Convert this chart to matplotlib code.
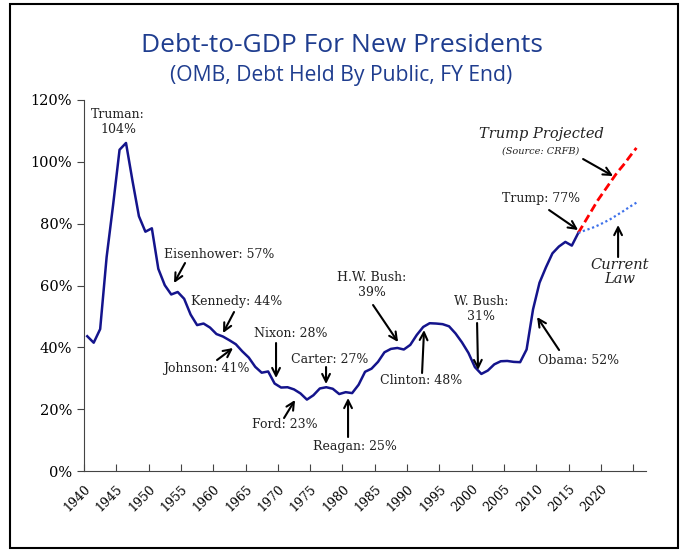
import matplotlib.pyplot as plt
from matplotlib.patches import Rectangle
from matplotlib.transforms import ScaledTranslation

# debt held by public, % of GDP (OMB), fiscal years 1940-2016
years = list(range(1940, 2017))
debt = [43.6, 41.5, 45.9, 69.2, 86.0, 103.9, 106.1, 93.9, 82.4, 77.4,
        78.5, 65.4, 60.1, 57.1, 57.9, 55.7, 50.6, 47.2, 47.7, 46.4,
        44.3, 43.5, 42.3, 41.0, 38.7, 36.7, 33.7, 31.8, 32.2, 28.3,
        27.0, 27.1, 26.4, 25.1, 23.1, 24.5, 26.7, 27.1, 26.6, 24.9,
        25.5, 25.2, 27.9, 32.1, 33.1, 35.3, 38.4, 39.5, 39.8, 39.3,
        40.8, 44.0, 46.6, 47.8, 47.7, 47.5, 46.8, 44.5, 41.6, 38.2,
        33.6, 31.4, 32.5, 34.5, 35.5, 35.6, 35.3, 35.2, 39.3, 52.3,
        60.9, 65.9, 70.4, 72.6, 74.1, 72.9, 77.0]

# projections 2016-2025
proj_years = list(range(2016, 2026))
trump_proj = [77.0, 80.5, 84.0, 87.5, 90.5, 93.5, 96.5, 99.0, 101.8, 104.5]
current_law = [77.0, 77.8, 78.5, 79.4, 80.4, 81.5, 82.8, 84.1, 85.5, 86.8]

tick_years = list(range(1940, 2026, 5))
xtick_labels = [str(y) for y in tick_years if y <= 2020] + ['']
yticks = [0, 20, 40, 60, 80, 100, 120]

serif = 'DejaVu Serif'
navy = '#14148c'
txtc = '#222222'

fig = plt.figure(figsize=(6.83, 5.5), dpi=100)
ax = fig.add_axes([0.123, 0.1436, 0.823, 0.6746])

ax.plot(years, debt, color=navy, lw=1.8)
ax.plot(proj_years, trump_proj, color='red', lw=2, ls=(0, (3, 1.5)))
ax.plot(proj_years, current_law, color='#3f72ea', lw=1.6, ls=(0, (1, 1.2)))

# category axis: ticks sit between years
ax.set_xlim(1939.5, 2026.5)
ax.set_ylim(0, 120)
ax.set_xticks([y - 0.5 for y in tick_years])
ax.set_xticklabels(xtick_labels, rotation=45, ha='right', rotation_mode='anchor',
                   fontsize=9, family=serif)
shift = ScaledTranslation(7 / 72, 0, fig.dpi_scale_trans)
for t in ax.get_xticklabels():
    t.set_transform(t.get_transform() + shift)
ax.set_yticks(yticks)
ax.set_yticklabels([f'{v}%' for v in yticks], fontsize=10.5, family=serif)
ax.tick_params(axis='x', direction='in', length=5, color='#444444', pad=8)
ax.tick_params(axis='y', direction='out', length=5, color='#444444')
for s in ['top', 'right']:
    ax.spines[s].set_visible(False)
for s in ['left', 'bottom']:
    ax.spines[s].set_color('#444444')

# titles
fig.text(0.5, 0.918, 'Debt-to-GDP For New Presidents', ha='center', va='center',
         fontsize=19, color='#1f3d8f', family='Open Sans')
fig.text(0.5, 0.863, '(OMB, Debt Held By Public, FY End)', ha='center', va='center',
         fontsize=15.2, color='#1f3d8f', family='Open Sans')


# annotation placement in pixels -> data coords
def pos(px, py):
    return 1939.5 + (px - 84) / 6.46, (471 - py) / 3.092


def label(txt, px, py, **kw):
    x, y = pos(px, py)
    kw.setdefault('fontsize', 9)
    ax.text(x, y, txt, ha='center', va='center', family=serif, color=txtc, **kw)


def arrow(p0, p1):
    ax.annotate('', xy=pos(*p1), xytext=pos(*p0),
                arrowprops=dict(arrowstyle='->', color='black', lw=1.5,
                                mutation_scale=14, shrinkA=0, shrinkB=0))


label('Truman:\n104%', 118, 122)
label('Eisenhower: 57%', 219, 254)
arrow((185, 263), (174, 283))
label('Kennedy: 44%', 237, 301)
arrow((234, 312), (223, 333))
label('Johnson: 41%', 206, 368)
arrow((217, 360), (233, 348))
label('Nixon: 28%', 291, 333)
arrow((276, 343), (276, 378))
label('Carter: 27%', 330, 359)
arrow((326, 367), (326, 384))
label('Ford: 23%', 285, 424)
arrow((284, 418), (295, 400))
label('Reagan: 25%', 355, 446)
arrow((348, 437), (348, 398))
label('H.W. Bush:\n39%', 372, 285)
arrow((373, 305), (398, 342))
label('Clinton: 48%', 421, 380)
arrow((422, 373), (424, 330))
label('W. Bush:\n31%', 481, 309)
arrow((477, 323), (478, 370))
label('Obama: 52%', 578, 360)
arrow((559, 350), (537, 317))
label('Trump: 77%', 541, 198)
arrow((549, 210), (578, 230))
label('Trump Projected', 541, 134, fontsize=10.5, style='italic')
label('(Source: CRFB)', 541, 151, fontsize=7, style='italic')
arrow((583, 159), (613, 176))
label('Current\nLaw', 620, 272, fontsize=10.5, style='italic', linespacing=1.0)
arrow((618, 257), (618, 225))

fig.add_artist(Rectangle((0.015, 0.004), 0.977, 0.989, transform=fig.transFigure,
                         fill=False, ec='black', lw=1.5))

fig.savefig('out.png', dpi=100)
